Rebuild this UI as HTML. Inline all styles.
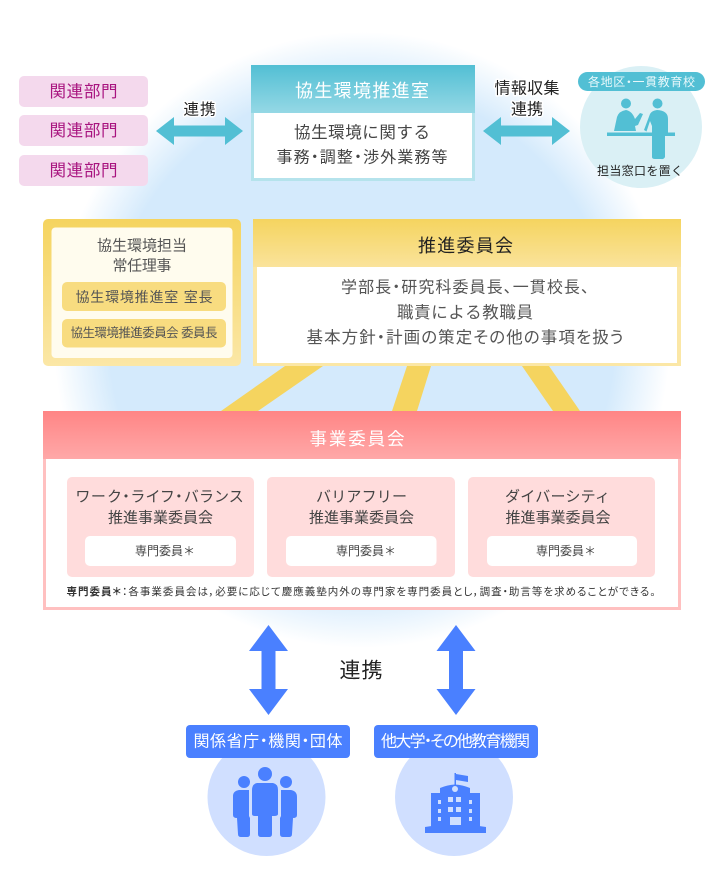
<!DOCTYPE html>
<html lang="ja"><head><meta charset="utf-8"><title>協生環境推進体制</title>
<style>html,body{margin:0;padding:0;background:#fff}svg{display:block}
text{font-family:"Liberation Sans","Noto Sans CJK JP",sans-serif;text-anchor:middle;dominant-baseline:central;transform:translateY(1px)}
.p{font-feature-settings:"palt" 1}
.h{paint-order:stroke;stroke:#fff;stroke-width:3px;stroke-linejoin:round;fill:#222}</style></head>
<body>
<svg xmlns="http://www.w3.org/2000/svg" width="724" height="895" viewBox="0 0 724 895">
<defs>
<radialGradient id="bg" gradientUnits="userSpaceOnUse" cx="362" cy="340" r="308"><stop offset="0.82" stop-color="#d4eafc"/><stop offset="1" stop-color="#fff"/></radialGradient>
<linearGradient id="teal" x1="0" y1="0" x2="0" y2="1"><stop offset="0" stop-color="#52bfd4"/><stop offset="1" stop-color="#95d8e5"/></linearGradient>
<linearGradient id="yel" x1="0" y1="0" x2="0" y2="1"><stop offset="0" stop-color="#f5d45f"/><stop offset="1" stop-color="#fbe7a6"/></linearGradient>
<linearGradient id="yel2" x1="0" y1="0" x2="0" y2="1"><stop offset="0" stop-color="#f5d45f"/><stop offset="1" stop-color="#fae39b"/></linearGradient>
<linearGradient id="red" x1="0" y1="0" x2="0" y2="1"><stop offset="0" stop-color="#ff8585"/><stop offset="1" stop-color="#ffa8a8"/></linearGradient>
</defs>
<rect width="724" height="895" fill="#fff"/>
<circle cx="362" cy="340" r="308" fill="url(#bg)"/>

<g fill="#f4d9ed">
<rect x="19" y="76" width="129" height="31" rx="5"/><rect x="19" y="115" width="129" height="31" rx="5"/><rect x="19" y="155" width="129" height="31" rx="5"/></g>
<g font-size="16.500" fill="#a8137f">
<text x="83.500" y="91" textLength="68">関連部門</text><text x="83.500" y="130" textLength="68">関連部門</text><text x="83.500" y="170" textLength="68">関連部門</text></g>

<path d="M156 131 174 117V125.500H225V117L243 131 225 145V136.500H174V145Z" fill="#52bfd4"/>
<text class="h" x="199.500" y="109" font-size="15.500" textLength="32">連携</text>

<rect x="251" y="65" width="224" height="116" fill="#b5e3ec"/>
<rect x="251" y="65" width="224" height="48" fill="url(#teal)"/>
<rect x="254" y="113" width="218" height="65" fill="#fff"/>
<text x="362" y="90" font-size="18" fill="#fff" textLength="134">協生環境推進室</text>
<text x="362" y="132" font-size="16.500" fill="#444" textLength="136">協生環境に関する</text>
<text class="p" x="362" y="157" font-size="16" fill="#444" textLength="171">事務・調整・渉外業務等</text>

<path d="M483 131 501 117V125.500H552V117L570 131 552 145V136.500H501V145Z" fill="#52bfd4"/>
<text class="h" x="527" y="88" font-size="16" textLength="65">情報収集</text>
<text class="h" x="527" y="109" font-size="16" textLength="32">連携</text>

<circle cx="641" cy="127" r="61" fill="#daf0f5"/>
<rect x="578" y="72" width="127" height="19" rx="9.500" fill="#52bfd4"/>
<text class="p" x="641.500" y="81" font-size="12" fill="#e8f8fb" textLength="107">各地区・一貫教育校</text>
<g fill="#52bfd4">
<circle cx="626" cy="103.500" r="5"/><circle cx="657.500" cy="103.500" r="5"/>
<path d="M614 131 617 117Q619 111 626 110Q632 111 635 119L640 113 643 114 638 125 635 126 636 131Z"/>
<path d="M644 130 650 114Q652 110.500 657 110Q668 110.500 668 119V133H665V157Q664 159.500 661 159H655Q652 159 652 157V126L650 121 646.500 131.500Z"/>
<rect x="607" y="132.500" width="68" height="3.500"/></g>
<text x="640" y="170" font-size="12" fill="#222" textLength="86">担当窓口を置く</text>

<polygon points="285,366 323,366 258,411 221,411" fill="#f5d45f"/>
<polygon points="407,366 431,366 417,411 392,411" fill="#f5d45f"/>
<polygon points="522,366 549,366 580,411 553,411" fill="#f5d45f"/>

<rect x="43" y="219" width="198" height="147" rx="5" fill="url(#yel)"/>
<rect x="51.500" y="227.500" width="181" height="130.500" rx="4" fill="#fffcee"/>
<text x="142" y="245" font-size="15" fill="#555" textLength="90">協生環境担当</text>
<text x="142" y="265" font-size="15" fill="#555" textLength="59">常任理事</text>
<rect x="62" y="282" width="164" height="29" rx="5" fill="#f8dc80"/>
<rect x="62" y="319" width="164" height="28.500" rx="5" fill="#f8dc80"/>
<text x="144" y="296" font-size="14" fill="#555" textLength="137">協生環境推進室 室長</text>
<text x="144" y="332" font-size="12.500" fill="#555" textLength="147">協生環境推進委員会 委員長</text>

<rect x="253" y="219" width="428" height="147" fill="#fbe7a6"/>
<rect x="253" y="219" width="428" height="48" fill="url(#yel2)"/>
<rect x="257" y="267" width="420" height="96" fill="#fff"/>
<text x="465.500" y="245" font-size="18" fill="#222" textLength="95">推進委員会</text>
<text class="p" x="465" y="287" font-size="16" fill="#555" textLength="248">学部長・研究科委員長、一貫校長、</text>
<text x="465" y="312" font-size="16.500" fill="#555" textLength="136">職責による教職員</text>
<text class="p" x="465" y="337" font-size="16.500" fill="#555" textLength="317">基本方針・計画の策定その他の事項を扱う</text>

<rect x="43" y="411" width="638" height="199" fill="#ffc0c0"/>
<rect x="43" y="411" width="638" height="48" fill="url(#red)"/>
<rect x="46" y="459" width="632" height="148" fill="#fff"/>
<text x="357" y="438" font-size="17.500" fill="#fff" textLength="95">事業委員会</text>

<g fill="#ffdcdc"><rect x="67" y="477" width="187" height="100" rx="5"/><rect x="267" y="477" width="188" height="100" rx="5"/><rect x="468" y="477" width="187" height="100" rx="5"/></g>
<g fill="#fff"><rect x="85" y="536" width="151" height="30" rx="5"/><rect x="286" y="536" width="150.500" height="30" rx="5"/><rect x="487" y="536" width="150" height="30" rx="5"/></g>
<g font-size="15" fill="#444">
<text class="p" x="159.500" y="496" textLength="167">ワーク・ライフ・バランス</text><text x="160.500" y="517" textLength="105">推進事業委員会</text>
<text x="361.500" y="496" textLength="91">バリアフリー</text><text x="361.500" y="517" textLength="105">推進事業委員会</text>
<text x="557.500" y="496" textLength="105">ダイバーシティ</text><text x="558" y="517" textLength="105">推進事業委員会</text></g>
<g font-size="12" fill="#444"><text x="165" y="550" textLength="60">専門委員＊</text><text x="366" y="550" textLength="60">専門委員＊</text><text x="566" y="550" textLength="60">専門委員＊</text></g>
<text class="p" x="361" y="591" font-size="10.500" fill="#333" textLength="589"><tspan font-weight="700">専門委員＊</tspan>：各事業委員会は，必要に応じて慶應義塾内外の専門家を専門委員とし，調査・助言等を求めることができる。</text>

<g fill="#4a80ff">
<path d="M268.500 625 288 651H275.500V689H288L268.500 715 249 689H261.500V651H249Z"/>
<path d="M456 625 475.500 651H463V689H475.500L456 715 436.500 689H449V651H436.500Z"/></g>
<text x="361" y="670" font-size="21" fill="#222" textLength="43">連携</text>

<circle cx="266.500" cy="797" r="59" fill="#d0dfff"/><circle cx="454" cy="797" r="59" fill="#d0dfff"/>
<rect x="186" y="725" width="164" height="33" rx="4" fill="#4a80ff"/>
<rect x="374" y="725" width="164" height="33" rx="4" fill="#4a80ff"/>
<text class="p" x="268" y="741" font-size="16" fill="#fff" textLength="149">関係省庁・機関・団体</text>
<text class="p" x="455.500" y="741" font-size="16" fill="#fff" textLength="149">他大学・その他教育機関</text>

<g fill="#4a80ff">
<circle cx="265" cy="774" r="7"/><circle cx="244" cy="782" r="6"/><circle cx="286" cy="782" r="6"/>
<path d="M257 783H273Q278 784 278 790V814Q278 816 274 816H272V834Q272 837 269 837H261Q258 837 258 834V816H255Q252 816 252 814V790Q252 784 257 783Z"/>
<path d="M239 790H249V816L250 818V834Q250 837 247 837H241Q238 837 238 834L237 818Q233 818 233 815V796Q233 791 239 790Z"/>
<path d="M281 790H291Q297 791 297 797V815Q297 818 293 818L292 834Q292 837 289 837H283Q280 837 280 834V818L281 816Z"/>

<rect x="454.500" y="773" width="1.500" height="13"/><path d="M456 774 468 776V782L456 780Z"/>
<path d="M431 793H440V788Q447 785 455 784.500Q463 785 470 788V793H480V828H431Z"/>
<path d="M425 827Q455 822 486 827V833H425Z"/></g>
<g fill="#d0dfff">
<circle cx="455" cy="789" r="3"/>
<rect x="448" y="797" width="5" height="5"/><rect x="456" y="797" width="5" height="5"/>
<rect x="448" y="807" width="5" height="5"/><rect x="456" y="807" width="5" height="5"/>
<rect x="438" y="800" width="3" height="4"/><rect x="469" y="800" width="3" height="4"/>
<rect x="438" y="809" width="3" height="4"/><rect x="469" y="809" width="3" height="4"/>
<rect x="438" y="817" width="3" height="4"/><rect x="469" y="817" width="3" height="4"/>
<rect x="450" y="817" width="11" height="8"/></g>
</svg>
</body></html>
